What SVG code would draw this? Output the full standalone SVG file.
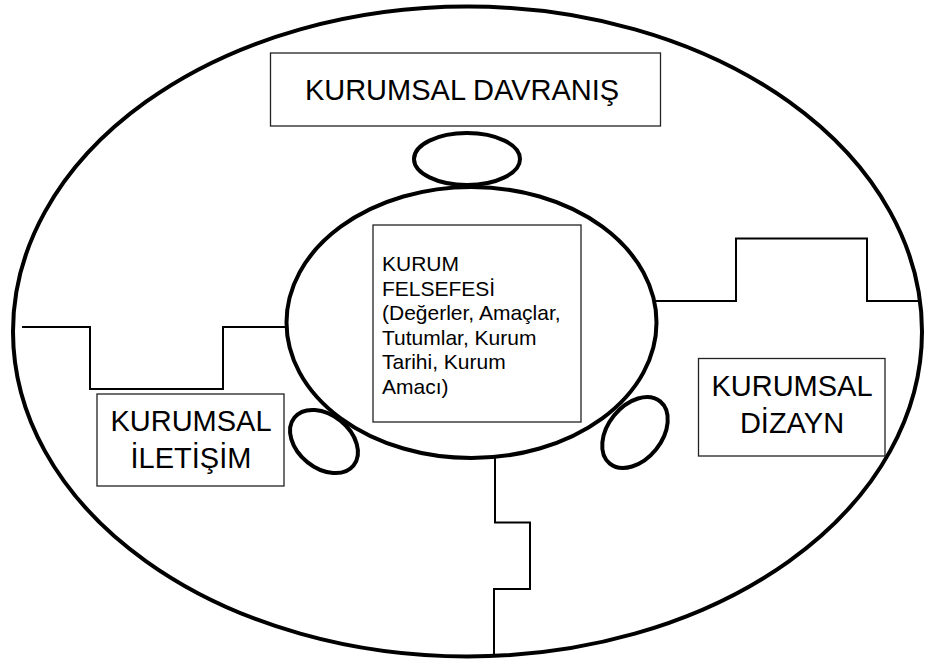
<svg xmlns="http://www.w3.org/2000/svg" width="926" height="662" viewBox="0 0 926 662">
<style>
.thick{fill:none;stroke:#000;stroke-width:4}
.step{fill:none;stroke:#000;stroke-width:2}
.box{fill:#fff;stroke:#222;stroke-width:1.3}
.big{font-family:"Liberation Sans",Arial,sans-serif;font-size:29px;fill:#000;text-anchor:middle}
.small{font-family:"Liberation Sans",Arial,sans-serif;font-size:21px;fill:#000}
</style>
<rect width="926" height="662" fill="#fff"/>
<g id="outer">
<ellipse class="thick" cx="467.5" cy="331.5" rx="454.5" ry="325"/>
</g>
<g id="connectors">
<polyline class="step" points="22,327 90,327 90,389 223,389 223,327 287,327"/>
<polyline class="step" points="655,301 736,301 736,238.5 867,238.5 867,301 921,301"/>
<polyline class="step" points="495,458 495,522.5 530,522.5 530,589 494,589 494,655"/>
</g>
<g id="center">
<ellipse class="thick" cx="471.5" cy="322.5" rx="185" ry="135.5"/>
</g>
<g id="knob-top">
<ellipse class="thick" cx="467" cy="159" rx="53" ry="26"/>
</g>
<g id="knob-left">
<ellipse class="thick" cx="324" cy="441.5" rx="26.5" ry="38" transform="rotate(-51 324 441.5)"/>
</g>
<g id="knob-right">
<ellipse class="thick" cx="635" cy="432.5" rx="27" ry="40" transform="rotate(39 635 432.5)"/>
</g>
<g id="davranis">
<rect class="box" x="270.5" y="53" width="390" height="73"/>
<text class="big" x="462" y="100">KURUMSAL DAVRANIŞ</text>
</g>
<g id="felsefe">
<rect class="box" x="373" y="225" width="208" height="197"/>
<text class="small" x="382" y="271">KURUM</text>
<text class="small" x="382" y="295.5">FELSEFESİ</text>
<text class="small" x="382" y="320">(Değerler, Amaçlar,</text>
<text class="small" x="382" y="344.5">Tutumlar, Kurum</text>
<text class="small" x="382" y="369">Tarihi, Kurum</text>
<text class="small" x="382" y="393.5">Amacı)</text>
</g>
<g id="iletisim">
<rect class="box" x="97" y="394" width="187" height="92"/>
<text class="big" x="191" y="431">KURUMSAL</text>
<text class="big" x="191" y="468">İLETİŞİM</text>
</g>
<g id="dizayn">
<rect class="box" x="698.5" y="358.5" width="186.5" height="97.5"/>
<text class="big" x="792" y="395.5">KURUMSAL</text>
<text class="big" x="792" y="433">DİZAYN</text>
</g>
</svg>
